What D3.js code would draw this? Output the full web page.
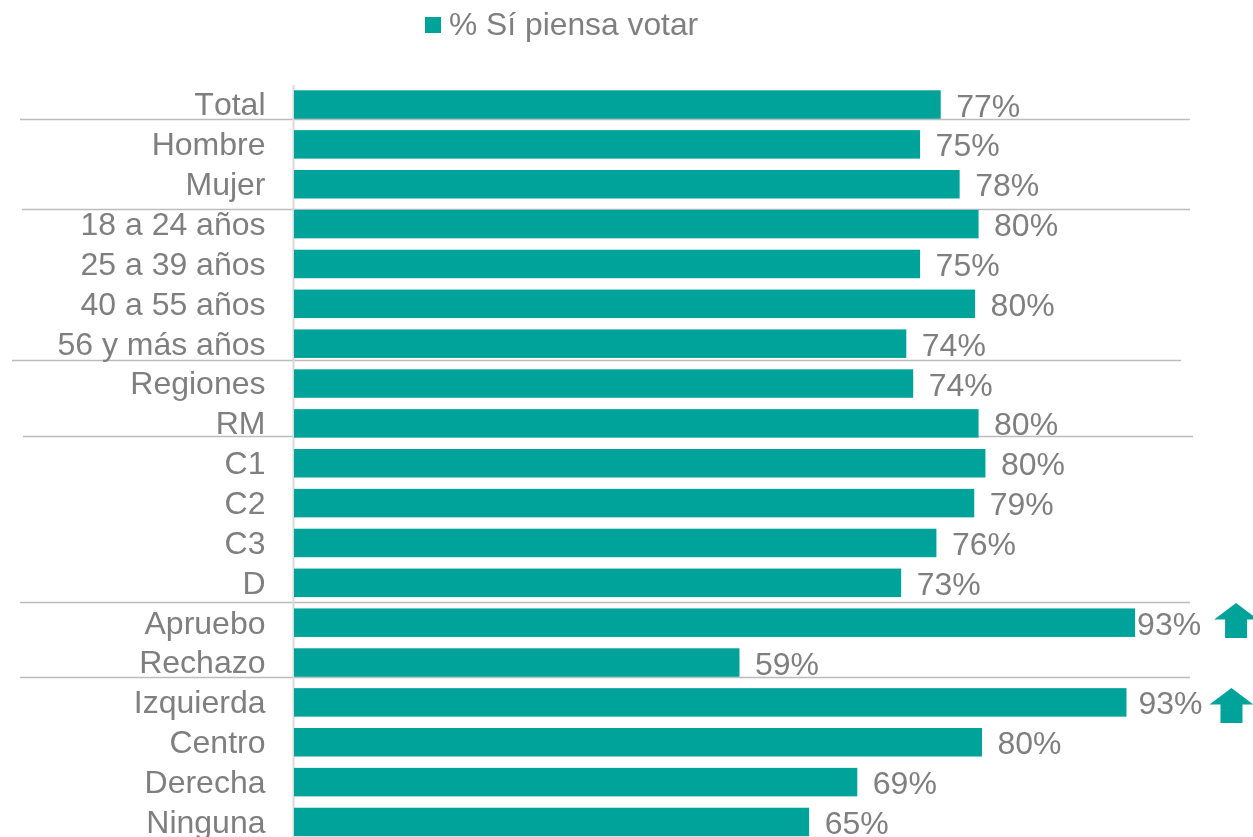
<!DOCTYPE html>
<html lang="es">
<head>
<meta charset="utf-8">
<style>
  html, body { margin: 0; background: #fff; overflow: hidden; }
  text { font-family: "Liberation Sans", Arial, sans-serif; font-size: 32px; fill: #7f7f7f; font-kerning: none; }
  .gray-text { filter: grayscale(1); }
</style>
<script src="https://cdn.jsdelivr.net/npm/d3@7"></script>
</head>
<body>
<div id="chart"></div>
<script>
// valores; las barras no siguen exactamente las etiquetas
const categories = ["Total", "Hombre", "Mujer", "18 a 24 años", "25 a 39 años", "40 a 55 años", "56 y más años",
  "Regiones", "RM", "C1", "C2", "C3", "D", "Apruebo", "Rechazo", "Izquierda", "Centro", "Derecha", "Ninguna"];
const barValues = [75.2, 72.8, 77.4, 79.6, 72.8, 79.2, 71.2, 72, 79.6, 80.4, 79.1, 74.7, 70.6, 97.8, 51.8, 96.8, 80, 65.5, 59.9];
const valueLabels = ["77%", "75%", "78%", "80%", "75%", "80%", "74%", "74%", "80%", "80%", "79%", "76%", "73%",
  "93%", "59%", "93%", "80%", "69%", "65%"];
const seriesName = "% Sí piensa votar";
const arrowCategories = ["Apruebo", "Izquierda"];
const groupEnds = ["Total", "Mujer", "56 y más años", "RM", "D", "Rechazo"];

const W = 1253, H = 837;
const TEAL = "#00a39a";

const svg = d3.select("#chart").append("svg").attr("width", W).attr("height", H).style("display", "block");

const x = d3.scaleLinear().domain([0, 100]).range([294, 1154]);
const y = d3.scaleBand().domain(categories).range([84.6, 841.9]);
const barH = 28.5;
const yc = (c) => y(c) + y.bandwidth() / 2;

// separadores de grupo, puestos a mano en el original: ni largo ni altura son regulares
const sepExtent = { "Total": [20, 1190], "Mujer": [22, 1190], "56 y más años": [12, 1181], "RM": [23, 1193], "D": [20, 1190], "Rechazo": [20, 1190] };
const sepShift = { "Total": -5.3, "Mujer": 5, "56 y más años": -3.4, "RM": -7, "D": -0.6, "Rechazo": -5.3 };
const sepY = (d) => Math.round(y(d) + y.bandwidth() + sepShift[d]) + 0.5;
svg.append("g").selectAll("line").data(groupEnds).join("line")
  .attr("x1", (d) => sepExtent[d][0])
  .attr("x2", (d) => sepExtent[d][1])
  .attr("y1", sepY)
  .attr("y2", sepY)
  .attr("stroke", "#bcbcbc")
  .attr("stroke-width", 1.3);

const gAxis = svg.append("g").attr("class", "gray-text").attr("transform", "translate(293,0)")
  .call(d3.axisLeft(y).tickSizeInner(0).tickSizeOuter(0).tickPadding(27.5));
gAxis.select(".domain").attr("stroke", "#d9d9d9").attr("stroke-width", 2);
gAxis.selectAll(".tick text").attr("dy", "0.34em");

svg.append("g").selectAll("rect").data(categories).join("rect")
  .attr("x", x(0))
  .attr("y", (d) => yc(d) - barH / 2)
  .attr("width", (d, i) => x(barValues[i]) - x(0))
  .attr("height", barH)
  .attr("fill", TEAL);

// la etiqueta de Apruebo e Izquierda queda mas pegada a la barra
const labelGap = { "Apruebo": 2, "Izquierda": 12 };
svg.append("g").attr("class", "gray-text").selectAll("text").data(categories).join("text")
  .attr("x", (d, i) => x(barValues[i]) + (labelGap[d] ?? 15.5))
  .attr("y", (d) => yc(d) + 12)
  .text((d, i) => valueLabels[i]);

// flechas de alza
const arrowPath = "M0,-17.5 L22,-1 L11,-1 L11,17.5 L-11,17.5 L-11,-1 L-22,-1 Z";
const arrowGap = { "Apruebo": 101, "Izquierda": 105 };
const arrowShift = { "Apruebo": -2.2, "Izquierda": 3.1 };
svg.append("g").selectAll("path").data(arrowCategories).join("path")
  .attr("d", arrowPath)
  .attr("fill", TEAL)
  .attr("transform", (d) => `translate(${x(barValues[categories.indexOf(d)]) + arrowGap[d]},${yc(d) + arrowShift[d]})`);

// leyenda
const legend = svg.append("g");
legend.append("rect").attr("x", 425).attr("y", 17).attr("width", 16).attr("height", 16).attr("fill", TEAL);
legend.append("text").attr("class", "gray-text").attr("x", 449).attr("y", 35).style("font-size", "31.8px").text(seriesName);
</script>
</body>
</html>
